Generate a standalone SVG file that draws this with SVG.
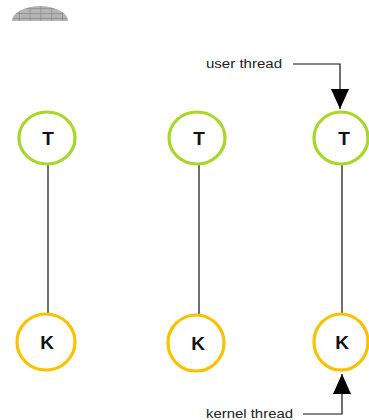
<svg xmlns="http://www.w3.org/2000/svg" width="369" height="420" viewBox="0 0 369 420">
  <style>
    .user { fill: #ffffff; stroke: #a8d62a; stroke-width: 3.2; }
    .kernel { fill: #ffffff; stroke: #f9c200; stroke-width: 3.2; }
    .letter { font-family: "Liberation Sans", Arial, sans-serif; font-weight: bold; font-size: 19px; fill: #111111; text-anchor: middle; }
    .label { font-family: "Liberation Sans", Arial, sans-serif; font-size: 12.5px; fill: #222222; }
    .link { fill: none; stroke: #111111; stroke-width: 1.2; }
  </style>
  <defs>
    <pattern id="grid" patternUnits="userSpaceOnUse" x="8" y="3" width="10.8" height="5">
      <rect width="10.8" height="5" fill="#b4b4b4"/>
      <path d="M0,0 V5 M0,0 H10.8" stroke="#7a7a7a" stroke-width="1"/>
    </pattern>
    <marker id="arrow" markerUnits="userSpaceOnUse" markerWidth="20" markerHeight="18" refX="20" refY="9" orient="auto" viewBox="0 0 20 18">
      <path d="M0,0 L20,9 L0,18 Z" fill="#000000"/>
    </marker>
  </defs>

  <!-- dome -->
  <path d="M12,21 A28,15 0 0 1 68,21 Z" fill="url(#grid)"/>

  <!-- connectors -->
  <g id="connectors">
    <line class="link" x1="48" y1="164" x2="48" y2="313"/>
    <line class="link" x1="199" y1="165" x2="199" y2="314"/>
    <line class="link" x1="342" y1="165" x2="342" y2="313"/>
    <path class="link" d="M293,64 H340 V109" marker-end="url(#arrow)"/>
    <path class="link" d="M303,414 H342 V374" marker-end="url(#arrow)"/>
  </g>

  <g id="t1">
    <ellipse class="user" cx="47" cy="138" rx="28" ry="26"/>
    <text class="letter" x="48" y="145">T</text>
  </g>
  <g id="t2">
    <ellipse class="user" cx="197" cy="138" rx="28" ry="26"/>
    <text class="letter" x="199" y="145">T</text>
  </g>
  <g id="t3">
    <ellipse class="user" cx="341" cy="138" rx="27" ry="26"/>
    <text class="letter" x="344" y="145">T</text>
  </g>

  <g id="k1">
    <ellipse class="kernel" cx="46" cy="342" rx="29" ry="28"/>
    <text class="letter" x="47" y="349">K</text>
  </g>
  <g id="k2">
    <ellipse class="kernel" cx="196" cy="343" rx="28" ry="28"/>
    <text class="letter" x="198" y="350">K</text>
  </g>
  <g id="k3">
    <ellipse class="kernel" cx="341" cy="342" rx="27" ry="28"/>
    <text class="letter" x="342" y="349">K</text>
  </g>

  <g id="user-label">
    <text class="label" x="206" y="68" textLength="76" lengthAdjust="spacingAndGlyphs">user thread</text>
  </g>
  <g id="kernel-label">
    <text class="label" x="206" y="418" textLength="87" lengthAdjust="spacingAndGlyphs">kernel thread</text>
  </g>
</svg>
